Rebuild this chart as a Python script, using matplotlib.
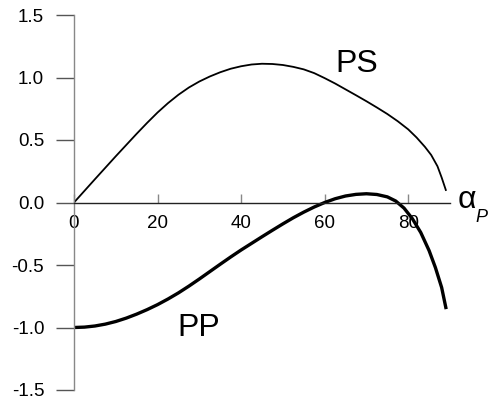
import matplotlib
matplotlib.use("Agg")
import matplotlib.pyplot as plt

plt.rcParams["font.family"] = ["Liberation Sans", "DejaVu Sans"]
plt.rcParams["axes.unicode_minus"] = False

# Incidence angle (degrees) and reflection coefficients
angle_ps = [0, 2.5, 5, 7.5, 10, 12.5, 15, 17.5, 20, 22.5, 25, 27.5, 30, 32.5, 35, 37.5, 40,
            42.5, 45, 47.5, 50, 52.5, 55, 57.5, 60, 62.5, 65, 67.5, 70, 72.5, 75, 77.5, 80,
            82, 84, 85.5, 87, 88, 89]
ps_values = [0.00, 0.093, 0.186, 0.278, 0.37, 0.46, 0.55, 0.637, 0.72, 0.795, 0.862, 0.92,
             0.968, 1.008, 1.042, 1.07, 1.09, 1.104, 1.11, 1.108, 1.10, 1.085, 1.065, 1.035,
             0.995, 0.952, 0.905, 0.858, 0.81, 0.76, 0.708, 0.65, 0.585, 0.52, 0.445, 0.38,
             0.29, 0.20, 0.10]

angle_pp = [0, 2.5, 5, 7.5, 10, 12.5, 15, 17.5, 20, 22.5, 25, 27.5, 30, 32.5, 35, 37.5, 40,
            42.5, 45, 47.5, 50, 52.5, 55, 57.5, 60, 62.5, 65, 67.5, 70, 72.5, 75, 77, 79,
            81, 83, 85, 86.5, 88, 89]
pp_values = [-1.000, -0.997, -0.988, -0.973, -0.952, -0.925, -0.893, -0.857, -0.817, -0.772,
             -0.723, -0.669, -0.612, -0.553, -0.494, -0.436, -0.38, -0.327, -0.274, -0.222,
             -0.171, -0.122, -0.077, -0.036, 0.00, 0.03, 0.052, 0.065, 0.07, 0.064, 0.045,
             0.012, -0.045, -0.13, -0.24, -0.385, -0.52, -0.68, -0.84]

x_ticks = [0, 20, 40, 60, 80]
y_ticks = [-1.5, -1.0, -0.5, 0.0, 0.5, 1.0, 1.5]

fig = plt.figure(figsize=(4.89, 4.03), dpi=100)
ax = fig.add_axes([74 / 489, 13 / 403, 376 / 489, 375 / 403])

ax.plot(angle_ps, ps_values, color="black", lw=1.3, solid_joinstyle="round")
ax.plot(angle_pp, pp_values, color="black", lw=2.4, solid_joinstyle="round")

ax.set_xlim(0, 90)
ax.set_ylim(-1.5, 1.5)

ax.spines["top"].set_visible(False)
ax.spines["right"].set_visible(False)
ax.spines["bottom"].set_position(("data", 0))
ax.spines["bottom"].set_color("#222222")
ax.spines["left"].set_color("#888888")
ax.spines["left"].set_linewidth(1.0)
ax.spines["bottom"].set_linewidth(1.0)

ax.set_xticks(x_ticks)
ax.set_xticklabels([str(v) for v in x_ticks])
ax.set_yticks(y_ticks)
ax.set_yticklabels([f"{v:.1f}" for v in y_ticks])

ax.tick_params(axis="x", direction="in", length=6.5, width=1.0, color="#888888",
               labelsize=13.5, pad=9)
ax.tick_params(axis="y", direction="out", length=13, width=1.0, color="#555555",
               labelsize=13.5, pad=8.5)


# Curve labels and axis symbol placed in display pixels
def px(x, y):
    return ax.transData.inverted().transform((x, 403 - y))


ax.text(*px(357, 63.5), "PS", fontsize=23, ha="center", va="center")
ax.text(*px(199, 328.5), "PP", fontsize=23, ha="center", va="center")
ax.text(*px(467, 200), "α", fontsize=23, ha="center", va="center", clip_on=False)
ax.text(*px(481, 218), "P", fontsize=13, style="italic", ha="center", va="center", clip_on=False)

fig.savefig("out.png", dpi=100)
